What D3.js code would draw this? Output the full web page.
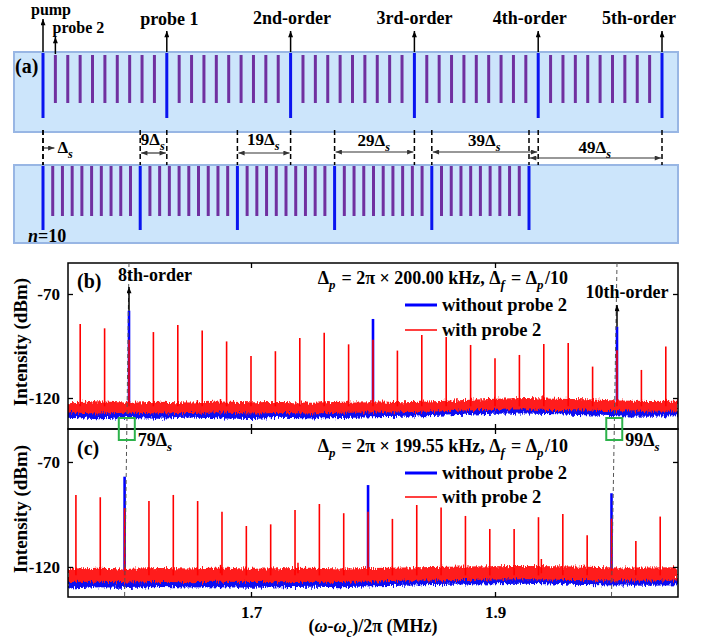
<!DOCTYPE html>
<html>
<head>
<meta charset="utf-8">
<script src="https://cdn.jsdelivr.net/npm/d3@7"></script>
<style>
body{margin:0;background:#fff}
svg{display:block;font-family:"Liberation Serif","Times New Roman",serif;font-weight:bold}
</style>
</head>
<body>
<svg id="fig" width="712" height="639"></svg>
<script>
// ---------- data ----------
// (a) frequency comb sketch
const order_labels = ["pump", "probe 1", "2nd-order", "3rd-order", "4th-order", "5th-order"]
const teeth_per_order = 10
const comb_teeth = d3.range(0, 51)
const gap_numbers = ["", "9", "19", "29", "39", "49"]

// (b),(c) spectra: comb index k sits at k * Dp/10
const comb_index = [78,79,80,81,82,83,84,85,86,87,88,89,90,91,92,93,94,95,96,97,98,99,100,101,102]
const red_b = [-84.4,-86.5,-92,-88.3,-84.9,-87.6,-92.8,-99.8,-97.5,-91.2,-88.6,-94.2,-92,-97.2,-89.7,-90.7,-94.5,-100.9,-99.3,-94.0,-93.6,-104.9,-97,-106.5,-95.3]
const red_c = [-85.7,-86.8,-92,-88.6,-85.7,-88.6,-93.7,-100.5,-99.7,-92.9,-90.0,-94.4,-93.7,-97.1,-90.5,-91.7,-95.7,-101.9,-101.9,-96.3,-94.8,-104.9,-97,-107.6,-96.0]
const blue_orders = [8, 9, 10]
const blue_b = [-78.0, -82.0, -85.7]
const blue_c = [-77.0, -81.0, -84.9]
const dp_b = 200.00   // kHz
const dp_c = 199.55   // kHz

// noise floor
const noise_freq = [1.55,1.575,1.6,1.625,1.65,1.675,1.7,1.725,1.75,1.775,1.8,1.825,1.85,1.875,1.9,1.925,1.95,1.975,2.0,2.025,2.05]
const red_hi_b = [-122.0,-121.6,-122.3,-121.8,-122.2,-121.7,-122.1,-121.9,-122.3,-121.8,-121.6,-122.0,-121.5,-121.0,-120.4,-120.0,-120.3,-120.6,-121.2,-121.4,-121.3]
const red_lo_b = [-127.0,-127.4,-127.1,-127.5,-127.2,-127.0,-127.4,-127.2,-127.5,-127.1,-127.0,-126.8,-126.5,-126.0,-125.6,-125.5,-125.8,-126.0,-126.4,-126.6,-126.5]
const blue_lo_b = [-129.5,-130.2,-129.6,-130.0,-129.4,-129.8,-130.1,-129.5,-129.9,-129.6,-129.3,-129.0,-128.6,-128.0,-127.6,-127.4,-127.8,-128.3,-128.8,-129.0,-128.8]
const red_hi_c = [-120.8,-120.4,-120.9,-120.5,-120.7,-120.3,-120.8,-120.6,-120.4,-120.7,-120.5,-120.2,-120.0,-119.8,-119.6,-119.5,-119.7,-119.9,-120.2,-120.3,-120.1]
const red_lo_c = [-127.2,-127.0,-127.4,-127.1,-127.3,-127.0,-127.2,-127.3,-127.0,-127.1,-126.9,-126.6,-126.4,-126.2,-126.0,-125.9,-126.1,-126.3,-126.5,-126.6,-126.4]
const blue_lo_c = [-130.2,-129.6,-130.0,-129.5,-129.8,-129.6,-129.9,-129.7,-129.4,-129.6,-129.2,-128.9,-128.6,-128.4,-128.2,-128.0,-128.3,-128.6,-128.8,-129.0,-128.7]
const spur_freq_b = [1.656, 1.675]
const spur_db_b = [-121.0, -120.5]
const spur_freq_c = [1.675, 1.7385, 1.938]
const spur_db_c = [-119.0, -118.0, -116.2]

const y_ticks = [-70, -120]
const x_ticks = [1.7, 1.9]

// ---------- drawing ----------
const svg = d3.select("#fig")
const defs = svg.append("defs")

function add_marker(id, color){
    defs.append("marker").attr("id", id)
        .attr("viewBox", "0 -4 10 8").attr("refX", 10).attr("refY", 0)
        .attr("markerWidth", 8).attr("markerHeight", 5)
        .attr("markerUnits", "userSpaceOnUse")
        .attr("orient", "auto-start-reverse")
        .append("path").attr("d", "M0,-4L10,0L0,4Z").attr("fill", color)
}
add_marker("ah", "#000")
add_marker("ahg", "#333")

const rough = defs.append("filter").attr("id", "rough")
    .attr("x", "-2%").attr("y", "-100%").attr("width", "104%").attr("height", "300%")
rough.append("feTurbulence").attr("type", "fractalNoise")
    .attr("baseFrequency", "0.9 0.15").attr("numOctaves", 2).attr("seed", 4).attr("result", "n")
rough.append("feDisplacementMap").attr("in", "SourceGraphic").attr("in2", "n")
    .attr("scale", 8).attr("xChannelSelector", "R").attr("yChannelSelector", "G")

// subscript helper: parts = [[text, sub?], ...]
function rich(sel, parts, size){
    for(const [t, sub] of parts){
        if(sub){
            sel.append("tspan").attr("dy", size*0.3).attr("font-size", size*0.72)
                .attr("font-style", "italic").text(t)
            sel.append("tspan").attr("dy", -size*0.3).text("\u200a")
        }else{
            sel.append("tspan").text(t)
        }
    }
    return sel
}

// ===== panel (a) =====
const box_top = {y0: 52, y1: 132}
const box_bot = {y0: 165, y1: 243}
const box_x0 = 14, box_x1 = 678
const x_top = d3.scaleLinear().domain([0, 50]).range([43, 662])
const x_bot = d3.scaleLinear().domain([0, 50]).range([43, 529])

for(const box of [box_top, box_bot]){
    svg.append("rect").attr("x", box_x0).attr("y", box.y0)
        .attr("width", box_x1 - box_x0).attr("height", box.y1 - box.y0)
        .attr("fill", "#cce5fb").attr("stroke", "#98b6e4").attr("stroke-width", 2)
}

function draw_comb(scale, box, blue_end, purple_start, purple_end){
    svg.append("g").selectAll("line").data(comb_teeth).join("line")
        .attr("x1", d => scale(d)).attr("x2", d => scale(d))
        .attr("y1", d => d % teeth_per_order === 0 ? box.y0 + 1 : purple_start)
        .attr("y2", d => d % teeth_per_order === 0 ? blue_end : purple_end)
        .attr("stroke", d => d % teeth_per_order === 0 ? "#0a14f0" : "#7030a0")
        .attr("stroke-width", 3)
}
draw_comb(x_top, box_top, 118, 55, 103)
draw_comb(x_bot, box_bot, 230, 166, 216)

// arrows + labels above top comb
const order_idx = order_labels.map((d, i) => i * teeth_per_order)
const arrow_tip = [19, 31, 31, 31, 31, 31]
const label_shift = [8, 2.5, 1.5, 0, -8.5, -23]
const label_base = [15, 25, 24, 24, 24, 24]
order_idx.forEach((k, i) => {
    svg.append("line").attr("x1", x_top(k)).attr("x2", x_top(k))
        .attr("y1", box_top.y0).attr("y2", arrow_tip[i])
        .attr("stroke", "#000").attr("stroke-width", 1.5).attr("marker-end", "url(#ah)")
    svg.append("text").attr("x", x_top(k) + label_shift[i]).attr("y", label_base[i])
        .attr("text-anchor", "middle").attr("font-size", i === 0 ? 16 : 18).text(order_labels[i])
})
// probe 2 (first sideband)
svg.append("line").attr("x1", x_top(1)).attr("x2", x_top(1))
    .attr("y1", box_top.y0 + 2).attr("y2", 37)
    .attr("stroke", "#000").attr("stroke-width", 1.5).attr("marker-end", "url(#ah)")
svg.append("text").attr("x", x_top(1) + 23).attr("y", 33)
    .attr("text-anchor", "middle").attr("font-size", 16).text("probe 2")

svg.append("text").attr("x", 15).attr("y", 73).attr("font-size", 20).text("(a)")
const n_label = svg.append("text").attr("x", 28).attr("y", 242).attr("font-size", 18)
n_label.append("tspan").attr("font-style", "italic").text("n")
n_label.append("tspan").text("=10")

// dashed connectors between the two combs
order_idx.forEach(k => {
    for(const xx of [x_top(k), x_bot(k)]){
        svg.append("line").attr("x1", xx).attr("x2", xx)
            .attr("y1", box_top.y1 - 2).attr("y2", box_bot.y0)
            .attr("stroke", "#000").attr("stroke-width", 1.5).attr("stroke-dasharray", "5,3")
    }
})

// spacing arrows
const gap_arrow_y = [148, 153, 153, 152, 152, 158]
const gap_text_y = [153, 145, 145, 146, 146, 153]
order_idx.forEach((k, i) => {
    const a = x_bot(k)
    const b = i === 0 ? x_top(1) : x_top(k)
    svg.append("line").attr("x1", a + 1).attr("x2", b - 1)
        .attr("y1", gap_arrow_y[i]).attr("y2", gap_arrow_y[i])
        .attr("stroke", "#333").attr("stroke-width", 1.2)
        .attr("marker-end", "url(#ahg)")
        .attr("marker-start", i === 0 ? null : "url(#ahg)")
    const t = svg.append("text").attr("font-size", 17)
        .attr("x", i === 0 ? b + 2 : (a + b) / 2).attr("y", gap_text_y[i])
        .attr("text-anchor", i === 0 ? "start" : "middle")
    rich(t, [[gap_numbers[i] + "\u0394", false], ["s", true]], 17)
})

// ===== panels (b) and (c) =====
const x = d3.scaleLinear().domain([1.55, 2.05]).range([68, 678])
const panels = [
    {tag: "(b)", y0: 263, y1: 429, dom: [-134.9, -55.1], dp: dp_b, red: red_b, blue: blue_b,
     red_hi: red_hi_b, red_lo: red_lo_b, blue_lo: blue_lo_b, spur_f: spur_freq_b, spur_db: spur_db_b,
     note_y: 284, leg_y: [305, 330]},
    {tag: "(c)", y0: 429, y1: 597, dom: [-134.3, -54.3], dp: dp_c, red: red_c, blue: blue_c,
     red_hi: red_hi_c, red_lo: red_lo_c, blue_lo: blue_lo_c, spur_f: spur_freq_c, spur_db: spur_db_c,
     note_y: 452, leg_y: [473, 497]}
]

defs.append("clipPath").attr("id", "plotclip").append("rect")
    .attr("x", 68).attr("y", 263).attr("width", 610).attr("height", 334)

panels.forEach((p, pi) => {
    const y = d3.scaleLinear().domain(p.dom).range([p.y1, p.y0])
    p.y = y
    const g = svg.append("g")
    const clip = g.append("g").attr("clip-path", "url(#plotclip)")

    const band = (hi, lo) => d3.area().x((d, i) => x(noise_freq[i]))
        .y0((d, i) => y(lo[i])).y1((d, i) => y(hi[i]))(noise_freq)
    const blue_hi = p.red_hi.map(v => v - 2.5)

    // blue trace (without probe 2)
    clip.append("path").attr("d", band(blue_hi, p.blue_lo))
        .attr("fill", "#1010f0").attr("filter", "url(#rough)")
    clip.selectAll(".bpk").data(blue_orders).join("line").attr("class", "bpk")
        .attr("x1", d => x(d * p.dp / 1000)).attr("x2", d => x(d * p.dp / 1000))
        .attr("y1", y(-125)).attr("y2", (d, i) => y(p.blue[i]))
        .attr("stroke", "#0000ff").attr("stroke-width", 2.6)

    // red trace (with probe 2)
    clip.append("path").attr("d", band(p.red_hi, p.red_lo))
        .attr("fill", "#ff1a1a").attr("filter", "url(#rough)")
    clip.selectAll(".rpk").data(comb_index).join("line").attr("class", "rpk")
        .attr("x1", d => x(d * p.dp / 10000)).attr("x2", d => x(d * p.dp / 10000))
        .attr("y1", y(-124)).attr("y2", (d, i) => y(p.red[i]))
        .attr("stroke", "#ff0000").attr("stroke-width", 1.6)
    clip.selectAll(".spur").data(p.spur_f).join("line").attr("class", "spur")
        .attr("x1", d => x(d)).attr("x2", d => x(d))
        .attr("y1", y(-123)).attr("y2", (d, i) => y(p.spur_db[i]))
        .attr("stroke", "#ff0000").attr("stroke-width", 1.5)

    // axes, ticks inward
    const fmt = d => String(d)
    g.append("g").attr("transform", "translate(68,0)")
        .call(d3.axisLeft(y).tickValues(y_ticks).tickSize(-5).tickPadding(8).tickFormat(fmt))
    g.append("g").attr("transform", "translate(678,0)")
        .call(d3.axisRight(y).tickValues(y_ticks).tickSize(-5).tickFormat(""))
    g.append("g").attr("transform", `translate(0,${p.y0})`)
        .call(d3.axisTop(x).tickValues(x_ticks).tickSize(-5).tickFormat(""))
    g.append("g").attr("transform", `translate(0,${p.y1})`)
        .call(d3.axisBottom(x).tickValues(x_ticks).tickSize(-5).tickPadding(9)
            .tickFormat(pi === 1 ? d => d.toFixed(1) : ""))
    g.selectAll(".domain").remove()
    g.selectAll(".tick line").attr("stroke", "#000").attr("stroke-width", 1.3)
    g.selectAll(".tick text").attr("font-family", "Liberation Serif")
        .attr("font-weight", "bold").attr("font-size", 17).attr("fill", "#000")

    g.append("rect").attr("x", 68).attr("y", p.y0).attr("width", 610).attr("height", p.y1 - p.y0)
        .attr("fill", "none").attr("stroke", "#000").attr("stroke-width", 1.5)

    g.append("text").attr("x", 77).attr("y", p.y0 + (pi === 0 ? 25 : 26))
        .attr("font-size", 20).text(p.tag)
    g.append("text").attr("transform", `translate(27,${(p.y0 + p.y1) / 2 - 4}) rotate(-90)`)
        .attr("text-anchor", "middle").attr("font-size", 19).text("Intensity (dBm)")

    // annotation
    const note = g.append("text").attr("x", 568).attr("y", p.note_y)
        .attr("text-anchor", "end").attr("font-size", 18)
    rich(note, [["\u0394", false], ["p", true],
        [" = 2\u03c0 \u00d7 " + p.dp.toFixed(2) + " kHz, \u0394", false], ["f", true],
        [" = \u0394", false], ["p", true], ["/10", false]], 18)

    // legend
    const leg_names = ["without probe 2", "with probe 2"]
    const leg_col = ["#0000ff", "#ff0000"]
    const leg_w = [3, 1.5]
    leg_names.forEach((nm, i) => {
        g.append("line").attr("x1", 405).attr("x2", 437)
            .attr("y1", p.leg_y[i]).attr("y2", p.leg_y[i])
            .attr("stroke", leg_col[i]).attr("stroke-width", leg_w[i])
        g.append("text").attr("x", 442).attr("y", p.leg_y[i] + 6)
            .attr("font-size", 18.5).text(nm)
    })
})

// dashed guides linking the 8th and 10th orders of (b) and (c)
const pb = panels[0], pc = panels[1]
const guide_orders = [8, 10]
const guide_names = ["79", "99"]
guide_orders.forEach((o, i) => {
    const xb = x(o * dp_b / 1000), xc = x(o * dp_c / 1000)
    svg.append("line").attr("x1", xb).attr("y1", pb.y0).attr("x2", xc).attr("y2", pc.y1)
        .attr("stroke", "#555").attr("stroke-width", 1).attr("stroke-dasharray", "4,3")
    const xm = (xb + xc) / 2
    svg.append("rect").attr("x", xm - 8).attr("y", 418).attr("width", 16).attr("height", 22)
        .attr("fill", "none").attr("stroke", "#2db24b").attr("stroke-width", 2)
    const t = svg.append("text").attr("x", xm + 11).attr("y", 446).attr("font-size", 18)
    rich(t, [[guide_names[i] + "\u0394", false], ["s", true]], 18)
})

// order arrows in (b)
const order_text = ["8th-order", "10th-order"]
const order_text_x = [155, 627]
const order_text_y = [281, 298]
const order_tip = [287, 305]
guide_orders.forEach((o, i) => {
    const xb = x(o * dp_b / 1000)
    const top = pb.y(blue_b[blue_orders.indexOf(o)])
    svg.append("line").attr("x1", xb).attr("x2", xb).attr("y1", top).attr("y2", order_tip[i])
        .attr("stroke", "#000").attr("stroke-width", 1.5).attr("marker-end", "url(#ah)")
    svg.append("text").attr("x", order_text_x[i]).attr("y", order_text_y[i])
        .attr("text-anchor", "middle").attr("font-size", 18).text(order_text[i])
})

// x label
const xl = svg.append("text").attr("x", 373).attr("y", 632).attr("text-anchor", "middle").attr("font-size", 18)
xl.append("tspan").text("(")
xl.append("tspan").attr("font-style", "italic").text("\u03c9")
xl.append("tspan").text("-")
xl.append("tspan").attr("font-style", "italic").text("\u03c9")
xl.append("tspan").attr("font-style", "italic").attr("font-size", 13).attr("dy", 5).text("c")
xl.append("tspan").attr("dy", -5).text(")/2\u03c0 (MHz)")
</script>
</body>
</html>
